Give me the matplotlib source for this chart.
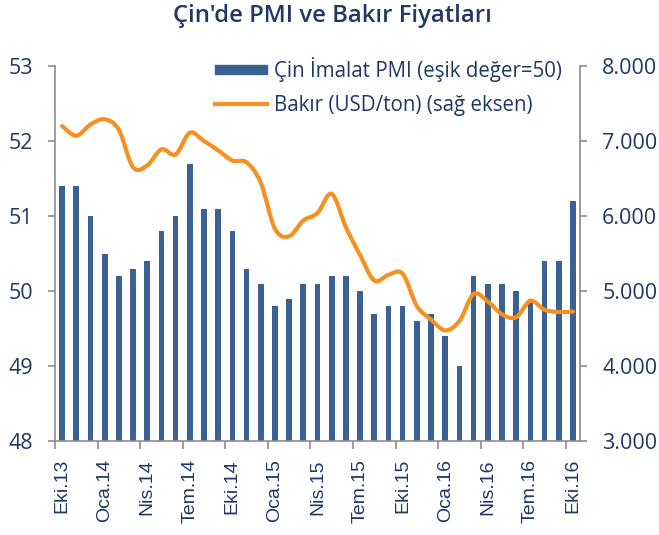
import matplotlib
matplotlib.use("Agg")
import matplotlib.pyplot as plt
import numpy as np
from matplotlib.ticker import FuncFormatter
from matplotlib.path import Path
from matplotlib.patches import PathPatch, Rectangle
from matplotlib.lines import Line2D
from matplotlib.legend_handler import HandlerPatch

months = ["Eki.13", "Kas.13", "Ara.13", "Oca.14", "Şub.14", "Mar.14", "Nis.14", "May.14", "Haz.14",
          "Tem.14", "Ağu.14", "Eyl.14", "Eki.14", "Kas.14", "Ara.14", "Oca.15", "Şub.15", "Mar.15",
          "Nis.15", "May.15", "Haz.15", "Tem.15", "Ağu.15", "Eyl.15", "Eki.15", "Kas.15", "Ara.15",
          "Oca.16", "Şub.16", "Mar.16", "Nis.16", "May.16", "Haz.16", "Tem.16", "Ağu.16", "Eyl.16",
          "Eki.16"]
pmi = [51.4, 51.4, 51.0, 50.5, 50.2, 50.3, 50.4, 50.8, 51.0, 51.7, 51.1, 51.1, 50.8, 50.3, 50.1,
       49.8, 49.9, 50.1, 50.1, 50.2, 50.2, 50.0, 49.7, 49.8, 49.8, 49.6, 49.7, 49.4, 49.0, 50.2,
       50.1, 50.1, 50.0, 49.9, 50.4, 50.4, 51.2]
copper = [7200, 7070, 7220, 7290, 7150, 6650, 6675, 6890, 6820, 7110, 7000, 6875, 6740, 6715, 6445,
          5830, 5730, 5940, 6040, 6295, 5850, 5480, 5140, 5215, 5230, 4800, 4620, 4475, 4600, 4960,
          4860, 4690, 4650, 4870, 4750, 4720, 4725]
label_every = 3

navy = "#1F3864"
bar_color = "#3A6194"
orange = "#F7901E"
grey = "#8C8C8C"

plt.rcParams['font.family'] = ['Open Sans', 'DejaVu Sans']

fig = plt.figure(figsize=(6.59, 5.35), dpi=100)
ax = fig.add_axes([55/659, 1-441/535, (580-55)/659, (441-66)/535])
ax2 = ax.twinx()

x = np.arange(len(months))
ax.bar(x, [p - 48 for p in pmi], bottom=48, width=0.4, color=bar_color, zorder=2)

# smoothed line through the data points (Excel-style smoothing, Catmull-Rom as Bezier)
pts = np.column_stack([x, copper]).astype(float)
verts = [tuple(pts[0])]
codes = [Path.MOVETO]
n = len(pts)
for i in range(n - 1):
    p0 = pts[max(i - 1, 0)]
    p1 = pts[i]
    p2 = pts[i + 1]
    p3 = pts[min(i + 2, n - 1)]
    c1 = p1 + (p2 - p0) / 6.0
    c2 = p2 - (p3 - p1) / 6.0
    verts += [tuple(c1), tuple(c2), tuple(p2)]
    codes += [Path.CURVE4] * 3
ax2.add_patch(PathPatch(Path(verts, codes), facecolor='none', edgecolor=orange, lw=3,
                        capstyle='round', joinstyle='round', zorder=3))

ax.set_xlim(-0.5, len(months) - 0.5)
ax.set_ylim(48, 53)
ax2.set_ylim(3000, 8000)
ax.set_yticks(range(48, 54))
ax2.set_yticks(range(3000, 8001, 1000))
ax2.yaxis.set_major_formatter(FuncFormatter(lambda v, p: f"{int(v):,}".replace(",", ".")))

ax.set_xticks(x[::label_every])
ax.set_xticklabels(months[::label_every], rotation=90, family=['Liberation Sans', 'DejaVu Sans'])
ax.set_xticks(np.arange(-0.5, len(months) - 1, label_every), minor=True)
ax.tick_params(axis='x', which='major', length=0, pad=13, labelsize=14, labelcolor=navy)
ax.tick_params(axis='x', which='minor', length=6, width=1.2, color=grey)
ax.tick_params(axis='y', length=5, width=1.2, color=grey, labelsize=15.5, labelcolor=navy, pad=11)
ax2.tick_params(axis='y', length=5, width=1.2, color=grey, labelsize=15.5, labelcolor=navy, pad=11)

for a in (ax, ax2):
    a.spines['top'].set_visible(False)
    for s in ('left', 'right', 'bottom'):
        a.spines[s].set_color(grey)
        a.spines[s].set_linewidth(1.2)
ax2.spines['bottom'].set_visible(False)
ax.spines['right'].set_visible(False)
ax2.spines['left'].set_visible(False)

bar_handle = Rectangle((0, 0), 1, 1, color=bar_color)
line_handle = Line2D([], [], color=orange, lw=3)


def slim_rect(legend, orig_handle, xdescent, ydescent, width, height, fontsize):
    return Rectangle((-xdescent, -ydescent + height * 0.18), width, height * 0.62)


leg = fig.legend([bar_handle, line_handle],
                 ["Çin İmalat PMI (eşik değer=50)", "Bakır (USD/ton) (sağ eksen)"],
                 loc='upper right', bbox_to_anchor=(562/659, 1-57/535), frameon=False,
                 fontsize=14.8, handlelength=2.55, handletextpad=0.33, labelspacing=0.62,
                 borderaxespad=0, borderpad=0,
                 handler_map={Rectangle: HandlerPatch(patch_func=slim_rect)})
for t in leg.get_texts():
    t.set_color(navy)

fig.text(0.504, 1-22/535, "Çin'de PMI ve Bakır Fiyatları", ha='center', va='baseline',
         fontsize=17.2, color=navy, fontweight='semibold')

fig.savefig("out.png", dpi=100)
